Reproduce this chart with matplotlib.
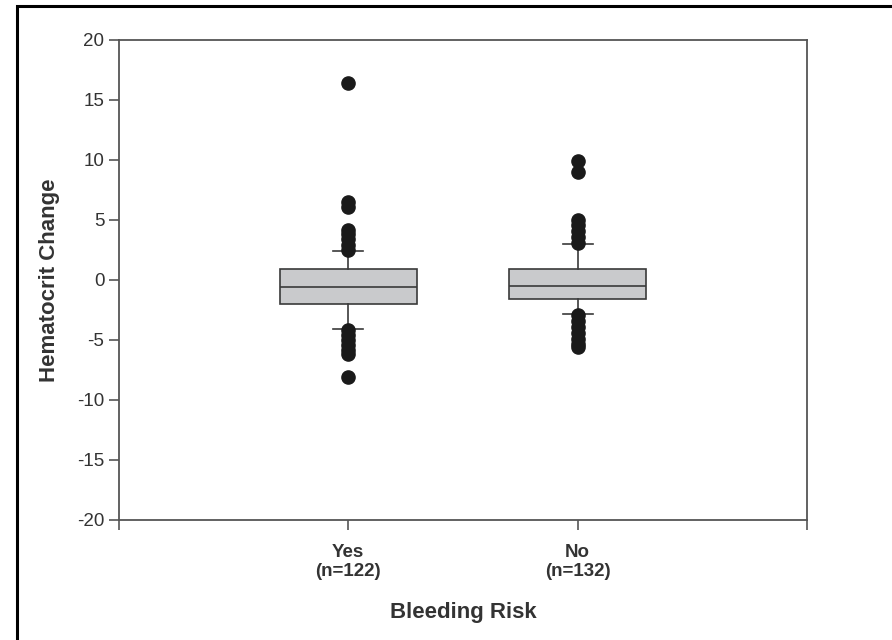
import matplotlib
matplotlib.use("Agg")
import matplotlib.pyplot as plt
from matplotlib.patches import Rectangle

plt.rcParams['font.family'] = ['Liberation Sans', 'DejaVu Sans']
plt.rcParams['axes.unicode_minus'] = False

# Data
groups = ['Yes\n(n=122)', 'No\n(n=132)']
medians = [-0.55, -0.5]
q1s = [-2.0, -1.6]
q3s = [0.9, 0.9]
whisk_lo = [-4.05, -2.8]
whisk_hi = [2.4, 3.0]
fliers_yes = [16.4, 6.5, 6.1, 4.2, 3.8, 3.4, 2.9, 2.5,
              -4.2, -4.6, -5.0, -5.4, -5.8, -6.2, -8.1]
fliers_no = [9.9, 9.0, 5.0, 4.6, 4.1, 3.6, 3.1,
             -2.9, -3.4, -3.9, -4.4, -4.9, -5.3, -5.6]
fliers = [fliers_yes, fliers_no]

stats = []
for i in range(len(groups)):
    stats.append({'med': medians[i], 'q1': q1s[i], 'q3': q3s[i],
                  'whislo': whisk_lo[i], 'whishi': whisk_hi[i],
                  'fliers': fliers[i]})

fig = plt.figure(figsize=(8.92, 6.4), dpi=100)
ax = fig.add_axes([119/892, 120/640, 688/892, 480/640])

edge = '#3a3a3a'
ax.bxp(stats, positions=[1, 2], widths=0.6, patch_artist=True,
       boxprops=dict(facecolor='#c9cacc', edgecolor=edge, linewidth=1.2),
       medianprops=dict(color=edge, linewidth=1.2),
       whiskerprops=dict(color=edge, linewidth=1.2),
       capprops=dict(color=edge, linewidth=1.2),
       capwidths=0.13,
       flierprops=dict(marker='o', markerfacecolor='#1a1a1a',
                       markeredgecolor='#1a1a1a', markersize=9.5))

ax.set_xlim(0, 3)
ax.set_ylim(-20, 20)
ax.set_yticks(range(-20, 21, 5))
ax.set_xticks([0, 1, 2, 3])
ax.set_xticklabels(['', groups[0], groups[1], ''], fontweight='bold',
                   fontsize=13.5, color='#333333', linespacing=1.15)
ax.tick_params(axis='y', labelsize=13.5, labelcolor='#333333', length=7,
               color='#555555', width=1.2)
ax.tick_params(axis='x', length=7, color='#555555', width=1.2, pad=10)
for s in ax.spines.values():
    s.set_color('#555555')
    s.set_linewidth(1.3)

ax.set_ylabel('Hematocrit Change', fontsize=16, fontweight='bold',
              color='#333333', labelpad=12)
ax.set_xlabel('Bleeding Risk', fontsize=16, fontweight='bold',
              color='#333333', labelpad=16)

# outer frame
fig.patches.append(Rectangle((17/892, -0.05), 1.0, (634 + 32)/640,
                             transform=fig.transFigure, fill=False,
                             edgecolor='black', linewidth=2.2))

fig.savefig('out.png', dpi=100)
